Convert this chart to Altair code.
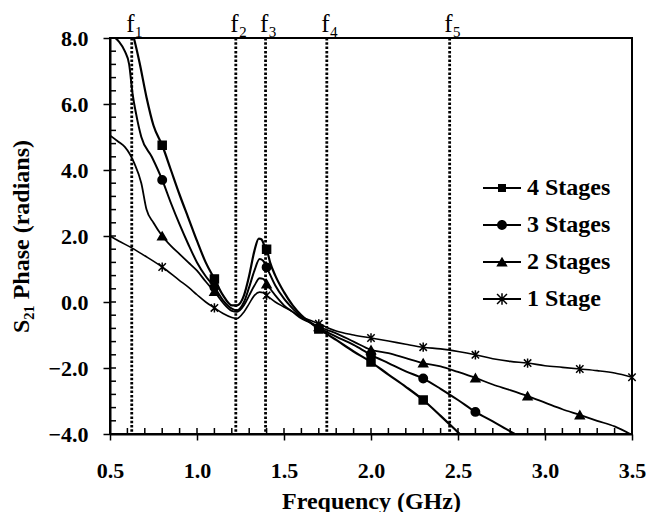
import altair as alt
import pandas as pd

series_names = ["4 Stages", "3 Stages", "2 Stages", "1 Stage"]

freq_4 = [0.60, 0.637, 0.67, 0.71, 0.75, 0.80, 0.85, 0.90, 0.95, 1.00, 1.05, 1.10, 1.15, 1.20, 1.23,
          1.27, 1.30, 1.33, 1.355, 1.37, 1.39, 1.40, 1.42, 1.45, 1.50, 1.55, 1.60, 1.65, 1.70, 1.75,
          1.80, 1.90, 2.00, 2.10, 2.20, 2.30, 2.40, 2.50, 2.55]
phase_4 = [8.6, 8.0, 7.25, 6.2, 5.35, 4.75, 4.0, 3.25, 2.55, 1.85, 1.2, 0.7, 0.2, -0.1, -0.1,
           0.2, 0.8, 1.55, 1.92, 1.9, 1.68, 1.6, 1.2, 0.8, 0.3, -0.1, -0.4, -0.62, -0.82, -0.98,
           -1.15, -1.5, -1.82, -2.2, -2.57, -2.97, -3.45, -3.95, -4.2]

freq_3 = [0.50, 0.55, 0.585, 0.61, 0.63, 0.65, 0.68, 0.74, 0.80, 0.85, 0.90, 0.95, 1.00, 1.05, 1.10,
          1.15, 1.20, 1.23, 1.27, 1.30, 1.33, 1.36, 1.38, 1.40, 1.45, 1.50, 1.55, 1.60, 1.65, 1.70,
          1.75, 1.80, 1.90, 2.00, 2.10, 2.20, 2.30, 2.40, 2.50, 2.60, 2.70, 2.80, 2.88]
phase_3 = [8.1, 7.9, 7.6, 7.2, 6.3, 5.7, 5.0, 4.4, 3.7, 3.0, 2.35, 1.75, 1.2, 0.78, 0.45,
           0.05, -0.2, -0.25, 0.0, 0.45, 0.95, 1.3, 1.25, 1.05, 0.5, 0.1, -0.2, -0.45, -0.62, -0.78,
           -0.92, -1.05, -1.3, -1.6, -1.85, -2.1, -2.32, -2.63, -2.97, -3.33, -3.62, -3.92, -4.15]

freq_2 = [0.50, 0.55, 0.585, 0.64, 0.68, 0.71, 0.75, 0.80, 0.85, 0.90, 0.95, 1.00, 1.05, 1.10, 1.15,
          1.20, 1.23, 1.27, 1.30, 1.33, 1.36, 1.38, 1.40, 1.45, 1.50, 1.55, 1.60, 1.65, 1.70, 1.75,
          1.80, 1.90, 2.00, 2.10, 2.20, 2.30, 2.40, 2.50, 2.60, 2.70, 2.80, 2.90, 3.00, 3.10, 3.20,
          3.30, 3.40, 3.50]
phase_2 = [5.05, 4.85, 4.7, 4.2, 3.6, 2.8, 2.4, 2.0, 1.7, 1.45, 1.2, 0.95, 0.62, 0.32, -0.03,
           -0.27, -0.3, -0.1, 0.2, 0.5, 0.72, 0.7, 0.55, 0.2, -0.1, -0.3, -0.5, -0.62, -0.75, -0.85,
           -0.95, -1.2, -1.45, -1.55, -1.7, -1.85, -1.95, -2.12, -2.3, -2.5, -2.67, -2.85, -3.05, -3.25, -3.42,
           -3.6, -3.77, -4.03]

freq_1 = [0.50, 0.55, 0.625, 0.70, 0.80, 0.90, 0.95, 1.00, 1.05, 1.10, 1.15, 1.20, 1.23, 1.27, 1.30,
          1.33, 1.36, 1.38, 1.40, 1.45, 1.50, 1.55, 1.60, 1.65, 1.70, 1.75, 1.80, 1.90, 2.00, 2.10,
          2.20, 2.30, 2.40, 2.50, 2.60, 2.70, 2.80, 2.90, 3.00, 3.10, 3.20, 3.30, 3.40, 3.50]
phase_1 = [2.0, 1.85, 1.64, 1.4, 1.06, 0.65, 0.45, 0.22, 0.0, -0.18, -0.35, -0.47, -0.5, -0.3, -0.05,
           0.2, 0.3, 0.28, 0.2, 0.0, -0.15, -0.3, -0.45, -0.55, -0.66, -0.78, -0.88, -1.0, -1.09, -1.18,
           -1.28, -1.37, -1.42, -1.5, -1.6, -1.72, -1.8, -1.85, -1.93, -1.98, -2.03, -2.08, -2.15, -2.28]

marker_freqs = [0.8, 1.1, 1.4, 1.7, 2.0, 2.3, 2.6, 2.9, 3.2, 3.5]

f_lines = [0.625, 1.223, 1.394, 1.746, 2.452]
f_labels = ["f\u2081", "f\u2082", "f\u2083", "f\u2084", "f\u2085"]

x_ticks = [0.5, 1.0, 1.5, 2.0, 2.5, 3.0, 3.5]
y_ticks = [-4.0, -2.0, 0.0, 2.0, 4.0, 6.0, 8.0]
x_minor = [round(0.5 + 0.1 * i, 2) for i in range(31)]
y_minor = [round(-4.0 + 0.4 * i, 2) for i in range(31)]

rows = []
for name, fr, ph in [(series_names[0], freq_4, phase_4), (series_names[1], freq_3, phase_3),
                     (series_names[2], freq_2, phase_2), (series_names[3], freq_1, phase_1)]:
    for f, p in zip(fr, ph):
        rows.append({"series": name, "freq": f, "phase": p})
lines_df = pd.DataFrame(rows)
markers_df = lines_df[lines_df["freq"].round(3).isin(marker_freqs) & (lines_df["phase"] >= -4.0)]
flines_df = pd.DataFrame({"freq": f_lines, "label": f_labels})
legend_df = pd.DataFrame({"series": series_names})
xminor_df = pd.DataFrame({"freq": x_minor})
yminor_df = pd.DataFrame({"phase": y_minor})

W, H = 522, 396
FONT = "Liberation Serif"
xs = alt.Scale(domain=[0.5, 3.5], nice=False, zero=False)
ys = alt.Scale(domain=[-4.0, 8.0], nice=False, zero=False)

star_path = "M0,-1V1M-0.8,-0.8L0.8,0.8M-0.8,0.8L0.8,-0.8"

lines = alt.Chart(lines_df).mark_line(color="black", clip=True, interpolate="monotone").encode(
    x=alt.X("freq:Q", scale=xs, title="Frequency (GHz)",
            axis=alt.Axis(values=x_ticks, format=".1f", orient="bottom", tickSize=6, labelPadding=20,
                          titlePadding=8, labelFlush=False, labelOverlap=False, grid=False)),
    y=alt.Y("phase:Q", scale=ys, title="S\u2082\u2081 Phase (radians)",
            axis=alt.Axis(values=y_ticks, format=".1f", orient="left", tickSize=7, labelPadding=15,
                          titlePadding=14, labelFlush=False, labelOverlap=False, grid=False)),
    size=alt.Size("series:N", scale=alt.Scale(domain=series_names, range=[2.2, 1.6, 2.2, 1.6]), legend=None),
    order=alt.Order("freq:Q"),
)

rules = alt.Chart(flines_df).mark_rule(color="black", strokeWidth=2.8, strokeDash=[2.5, 1.8]).encode(
    x=alt.X("freq:Q", scale=xs, axis=None)
)

flabels = alt.Chart(flines_df).mark_text(font=FONT, fontSize=25, color="black", align="center",
                                         baseline="alphabetic", dx=3).encode(
    x=alt.X("freq:Q", scale=xs, axis=None),
    y=alt.value(-6),
    text="label:N",
)

# inward minor ticks (positions from the axis scales)
xminor = alt.Chart(xminor_df).mark_rule(color="black", strokeWidth=1.5).encode(
    x=alt.X("freq:Q", scale=xs, axis=None),
    y=alt.value(H),
    y2=alt.value(H - 6),
)
yminor = alt.Chart(yminor_df).mark_rule(color="black", strokeWidth=1.5).encode(
    y=alt.Y("phase:Q", scale=ys, axis=None),
    x=alt.value(0),
    x2=alt.value(6),
)

markers = alt.Chart(markers_df).mark_point(fill="black", stroke="black", strokeWidth=1.5, opacity=1).encode(
    x=alt.X("freq:Q", scale=xs, axis=None),
    y=alt.Y("phase:Q", scale=ys, axis=None),
    shape=alt.Shape("series:N", scale=alt.Scale(domain=series_names,
                                                range=["square", "circle", "triangle-up", star_path]),
                    legend=None),
    size=alt.Size("series:N", scale=alt.Scale(domain=series_names, range=[64, 85, 95, 150]), legend=None),
)

# legend glyphs: horizontal line segment + marker, all as filled outlines
leg_line = "M-1,-0.05H1V0.05H-1Z"
leg_paths = [
    leg_line + "M-0.21,-0.21H0.21V0.21H-0.21Z",
    leg_line + "M-0.26,0A0.26,0.26,0,1,1,0.26,0A0.26,0.26,0,1,1,-0.26,0Z",
    leg_line + "M0,-0.28L0.3,0.24H-0.3Z",
    leg_line + "M-0.04,-0.3H0.04V0.3H-0.04Z"
    "M-0.232,-0.288L0.288,0.232L0.232,0.288L-0.288,-0.232Z"
    "M-0.288,0.232L0.232,-0.288L0.288,-0.232L-0.232,0.288Z",
]

legend_layer = alt.Chart(legend_df).mark_point(fill="black", stroke="black", opacity=0).encode(
    shape=alt.Shape("series:N", scale=alt.Scale(domain=series_names, range=leg_paths),
                    legend=alt.Legend(title=None, orient="none", legendX=373, legendY=131,
                                      labelFont=FONT, labelFontWeight="bold", labelFontSize=24,
                                      labelColor="black", symbolSize=1444, labelOffset=6,
                                      rowPadding=6, padding=0, labelLimit=300,
                                      symbolFillColor="black", symbolStrokeColor="black",
                                      symbolStrokeWidth=0, symbolOpacity=1)),
)

chart = alt.layer(lines, rules, xminor, yminor, markers, flabels, legend_layer).resolve_axis(
    x="independent", y="independent"
).resolve_scale(
    shape="independent", size="independent"
).properties(
    width=W, height=H,
    background="white",
    autosize=alt.AutoSizeParams(type="none"),
    padding={"left": 102, "top": 30, "right": 14, "bottom": 78},
).configure_view(stroke="black", strokeWidth=2).configure_axis(
    labelFont=FONT, labelFontSize=22, labelFontWeight="bold", labelColor="black",
    titleFont=FONT, titleFontSize=24, titleFontWeight="bold", titleColor="black",
    domainColor="black", domainWidth=2, tickColor="black", tickWidth=1.5,
)

chart.save("out.html", embed_options={"renderer": "svg", "actions": False})
